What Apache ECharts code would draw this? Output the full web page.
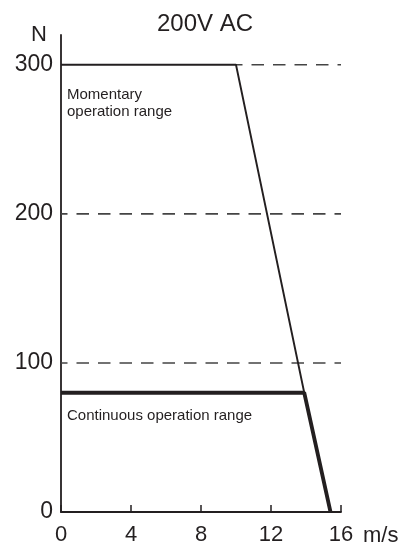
<!DOCTYPE html>
<html>
<head>
<meta charset="utf-8">
<script src="https://cdn.jsdelivr.net/npm/echarts@6/dist/echarts.min.js"></script>
<style>html,body{margin:0;padding:0;background:#fff}#c{width:412px;height:547px}</style>
</head>
<body>
<div id="c"></div>
<script>
var title = '200V AC';
var xTicks = [0, 4, 8, 12, 16];
var yTicks = [0, 100, 200, 300];
var momentarySpeed = [0, 10, 13.9];
var momentaryForce = [300, 300, 80];
var continuousSpeed = [0, 13.9, 15.4];
var continuousForce = [80, 80, 0];
var refLevels = [100, 200, 300];
var refStart = [0, 0, 10];
var refEnd = [16, 16, 16];
var momentaryLabel = 'Momentary\noperation range';
var continuousLabel = 'Continuous operation range';

var ink = '#231f20';
var font = 'Liberation Sans, Arial, Helvetica, sans-serif';

function pairs(xs, ys) { return xs.map(function (x, i) { return [x, ys[i]]; }); }

var series = [];
refLevels.forEach(function (lv, i) {
  series.push({
    type: 'line', silent: true, symbol: 'none', z: 1,
    data: [[refStart[i], lv], [refEnd[i], lv]],
    lineStyle: { color: '#444', width: 1.6, type: [12.5, 9], dashOffset: 6 }
  });
});
series.push({
  type: 'line', symbol: 'none', z: 3,
  data: pairs(momentarySpeed, momentaryForce),
  lineStyle: { color: ink, width: 1.9 }
});
series.push({
  type: 'line', symbol: 'none', z: 4,
  data: pairs(continuousSpeed, continuousForce),
  lineStyle: { color: ink, width: 3.8 }
});

var chart = echarts.init(document.getElementById('c'), null, { renderer: 'canvas' });
chart.setOption({
  animation: false,
  backgroundColor: '#fff',
  textStyle: { fontFamily: font, color: ink },
  title: {
    text: title, left: 152, top: 7,
    textStyle: { fontFamily: font, fontSize: 24, fontWeight: 'normal', color: ink }
  },
  grid: { left: 61, right: 71, top: 35, bottom: 35, containLabel: false },
  xAxis: {
    type: 'value', min: 0, max: 16, interval: 4,
    name: 'm/s', nameLocation: 'end', nameGap: 22,
    nameTextStyle: { fontFamily: font, fontSize: 22, color: ink, verticalAlign: 'top', padding: [13, 0, 0, 0] },
    axisLine: { show: true, lineStyle: { color: ink, width: 1.8 } },
    axisTick: { show: true, inside: true, length: 7, lineStyle: { color: ink, width: 1.5 } },
    axisLabel: { fontFamily: font, fontSize: 22, color: ink, margin: 12,
      formatter: function (v) { return xTicks.indexOf(v) >= 0 ? String(v) : ''; } },
    splitLine: { show: false }
  },
  yAxis: {
    type: 'value', min: 0, max: 320, interval: 100,
    name: 'N', nameLocation: 'end', nameGap: 0,
    nameTextStyle: { fontFamily: font, fontSize: 22, color: ink, align: 'right', verticalAlign: 'middle', padding: [0, 14, 0, 0] },
    axisLine: { show: true, lineStyle: { color: ink, width: 1.8 } },
    axisTick: { show: false },
    axisLabel: { fontFamily: font, fontSize: 23, color: ink, margin: 8,
      formatter: function (v) { return yTicks.indexOf(v) >= 0 ? String(v) : ''; } },
    splitLine: { show: false }
  },
  graphic: [
    { type: 'text', left: 67, top: 86, style: { text: momentaryLabel, fontFamily: font, fontSize: 15, lineHeight: 17, fill: ink } },
    { type: 'text', left: 67, top: 408, style: { text: continuousLabel, fontFamily: font, fontSize: 15, fill: ink } }
  ],
  series: series
});
</script>
</body>
</html>
